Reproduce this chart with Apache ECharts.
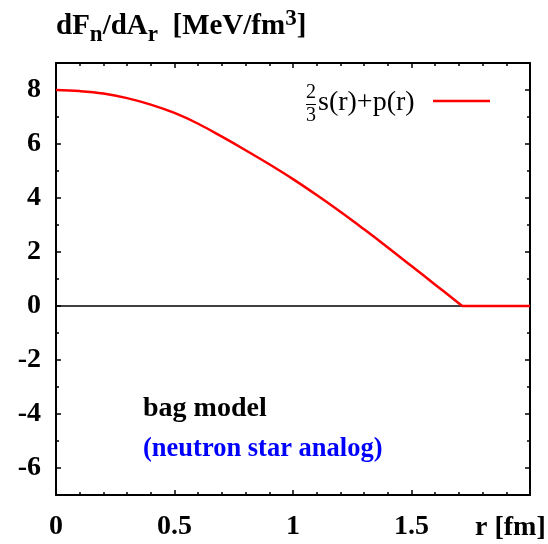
<!DOCTYPE html>
<html>
<head>
<meta charset="utf-8">
<script src="https://cdn.jsdelivr.net/npm/echarts@6/dist/echarts.min.js"></script>
<style>
html,body{margin:0;padding:0;background:#fff;}
#chart{width:548px;height:544px;}
</style>
</head>
<body>
<div id="chart"></div>
<script>
// ---- data ----
const rCurve = [0, 0.1, 0.2, 0.3, 0.4, 0.5, 0.6, 0.7, 0.8, 0.9, 1.0, 1.1, 1.2, 1.3, 1.4, 1.5, 1.6, 1.714];
const fCurve = [8.00, 7.96, 7.87, 7.70, 7.46, 7.15, 6.75, 6.27, 5.77, 5.25, 4.70, 4.11, 3.49, 2.84, 2.17, 1.48, 0.79, 0];
const rFlat = [1.714, 2.0];
const fFlat = [0, 0];
const zeroLineR = [0, 2];
const zeroLineF = [0, 0];
const xTicks = [0, 0.5, 1, 1.5, 2];
const yMajorTicks = [-6, -4, -2, 0, 2, 4, 6, 8];
const yMinorTicks = [-5, -3, -1, 1, 3, 5, 7];
const xAxisTitle = 'r [fm]';
const textBag = 'bag model';
const textAnalog = '(neutron star analog)';
const legendText = 's(r)+p(r)';

const SERIF = '"Liberation Serif", "Times New Roman", serif';
const chart = echarts.init(document.getElementById('chart'), null, {renderer: 'canvas'});

const curve = rCurve.map((r, i) => [r, fCurve[i]]);
const flat = rFlat.map((r, i) => [r, fFlat[i]]);
const zero = zeroLineR.map((r, i) => [r, zeroLineF[i]]);

const mctx = document.createElement('canvas').getContext('2d');
function tw(txt, size, weight) {
  mctx.font = (weight || 'normal') + ' ' + size + 'px ' + SERIF;
  return mctx.measureText(txt).width;
}

const titleParts = [
  {t: 'dF', s: 29, dy: 26.5},
  {t: 'n', s: 23, dy: 35.5},
  {t: '/dA', s: 29, dy: 26.5},
  {t: 'r', s: 23, dy: 35.5},
  {t: '  [MeV/fm', s: 29, dy: 26.5},
  {t: '3', s: 23, dy: 19},
  {t: ']', s: 29, dy: 26.5}
];
const graphics = [];
let tx = 56;
titleParts.forEach(p => {
  graphics.push({
    type: 'text', x: tx, y: p.dy,
    style: {text: p.t, font: 'bold ' + p.s + 'px ' + SERIF, fill: '#000', verticalAlign: 'middle', align: 'left'}
  });
  tx += tw(p.t, p.s, 'bold');
});

function txt(x, y, text, size, weight, color) {
  return {type: 'text', x: x, y: y,
    style: {text: text, font: weight + ' ' + size + 'px ' + SERIF, fill: color, verticalAlign: 'middle', align: 'left'}};
}
graphics.push(txt(143, 409, textBag, 28, 'bold', '#000'));
graphics.push(txt(143, 449.5, textAnalog, 26.5, 'bold', '#0000ff'));
graphics.push(txt(475, 528, xAxisTitle, 28, 'bold', '#000'));
// legend
graphics.push(txt(306, 93, '2', 20, 'normal', '#000'));
graphics.push(txt(306, 116, '3', 20, 'normal', '#000'));
graphics.push({type: 'line', shape: {x1: 306, y1: 104.5, x2: 316, y2: 104.5}, style: {stroke: '#000', lineWidth: 1}});
graphics.push(txt(318, 103, legendText, 28, 'normal', '#000'));
graphics.push({type: 'line', shape: {x1: 433, y1: 101, x2: 490, y2: 101}, style: {stroke: '#ff0000', lineWidth: 2.5}});

const axisFont = {fontSize: 28, fontWeight: 'bold', fontFamily: SERIF, color: '#000'};

function yAx(pos, ticks, len, showLine, labels) {
  return {
    type: 'value', min: -7, max: 9, position: pos,
    axisLine: {show: showLine, onZero: false, lineStyle: {color: '#000', width: 2}},
    axisTick: {show: true, inside: true, length: len, customValues: ticks, lineStyle: {color: '#000', width: 1.5}},
    axisLabel: labels ? Object.assign({show: true, customValues: ticks, margin: 15}, axisFont) : {show: false},
    splitLine: {show: false}
  };
}
function xAx(pos, labels) {
  return {
    type: 'value', min: 0, max: 2, interval: 0.5, position: pos,
    axisLine: {show: true, onZero: false, lineStyle: {color: '#000', width: 2}},
    axisTick: {show: true, inside: true, length: 5, lineStyle: {color: '#000', width: 1.5}},
    minorTick: {show: true, splitNumber: 5, length: 3, lineStyle: {color: '#000', width: 1.5}},
    axisLabel: labels ? Object.assign({show: true, margin: 18, formatter: v => (v === 2 ? '' : String(v))}, axisFont) : {show: false},
    splitLine: {show: false}, minorSplitLine: {show: false}
  };
}

chart.setOption({
  backgroundColor: '#fff',
  animation: false,
  grid: {left: 56, right: 18, top: 63, bottom: 49, containLabel: false},
  xAxis: [xAx('bottom', true), xAx('top', false)],
  yAxis: [
    yAx('left', yMajorTicks, 5, true, true),
    yAx('left', yMinorTicks, 3, false, false),
    yAx('right', yMajorTicks, 5, true, false),
    yAx('right', yMinorTicks, 3, false, false)
  ],
  series: [
    {type: 'line', data: zero, xAxisIndex: 0, yAxisIndex: 0, symbol: 'none', z: 1,
     lineStyle: {color: '#000', width: 1.5}},
    {type: 'line', data: curve, xAxisIndex: 0, yAxisIndex: 0, symbol: 'none', z: 2,
     smooth: 0.4, lineStyle: {color: '#ff0000', width: 2.5}},
    {type: 'line', data: flat, xAxisIndex: 0, yAxisIndex: 0, symbol: 'none', z: 2,
     lineStyle: {color: '#ff0000', width: 2.5}}
  ],
  graphic: graphics
});
</script>
</body>
</html>
